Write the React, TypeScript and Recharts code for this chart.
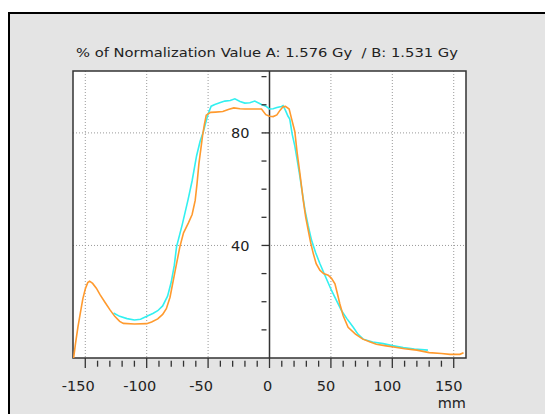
import React from 'react';
import {
  LineChart,
  Line,
  XAxis,
  YAxis,
  CartesianGrid,
  ReferenceLine,
  ReferenceDot,
  ReferenceArea,
} from 'recharts';

const titleText = '% of Normalization Value A: 1.576 Gy\u00a0 / B: 1.531 Gy';
const unitLabel = 'mm';

const orangeMm = [
  -159.5, -158, -156, -154, -152, -150, -148, -146.5, -144, -141, -138, -134, -130, -126, -122, -119,
  -110, -100, -96, -91, -87, -84, -81, -77, -73, -70, -66, -63, -60.5, -59, -57.5, -56, -54.5, -53,
  -51.5, -48, -44, -38, -33, -29, -24, -20, -12, -6.5, -3, 0, 3, 6, 8.5, 11, 13, 16, 18, 20.6, 22.5,
  24.7, 27.4, 29.5, 31.5, 33.5, 35.6, 38, 41, 44, 47.8, 50.5, 53.3, 55.5, 57.3, 60, 64, 70, 76, 82,
  87, 95, 101, 110, 120, 130, 140, 147, 155, 158,
];
const orangePct = [
  0, 5, 11, 16, 21, 24.5, 26.8, 27.3, 26.5, 24.8, 22.5, 19.8, 17.2, 14.8, 13.0, 12.3,
  12.1, 12.2, 12.8, 13.9, 15.5, 17.5, 21.6, 30.6, 39.5, 44.5, 48, 51, 56, 62, 69, 74, 79, 83,
  86.3, 87.3, 87.4, 87.6, 88.4, 88.9, 88.6, 88.5, 88.5, 88.5, 86.5, 85.9, 85.8, 86.4, 88, 89.3, 89.4, 88.5, 85, 80.5, 73,
  65.8, 56.3, 50, 45.5, 41, 37.2, 33.5, 31.2, 30, 29.4, 28.3, 26.4, 22.5, 19.2, 15, 10.9, 8.5, 6.7, 5.7,
  4.9, 4.3, 3.9, 3.3, 2.8, 1.9, 1.6, 1.3, 1.3, 1.9,
];

const cyanMm = [
  -127, -122, -116, -110, -105, -99, -95, -91, -87, -83, -80, -77.5, -75.7, -71, -66.3, -63, -59.4,
  -56.5, -54, -52, -50, -47.5, -44.5, -40, -36.4, -32, -28.2, -24, -20.1, -16, -12, -6.5, -3, 0, 3, 6,
  9.8, 11, 13, 15, 16.5, 18.5, 20.6, 22.5, 24.7, 26.8, 28.8, 31.5, 34.2, 37.5, 41, 45, 50.5, 55, 58.7,
  63, 68.2, 72, 76.3, 84, 92.6, 100, 108.9, 118, 129,
];
const cyanPct = [
  16.0, 14.8, 14.0, 13.5, 13.8, 15, 15.8, 16.8, 18.5, 22, 27, 33, 39.5, 47.5, 56.3, 63, 71.8,
  77, 80.2, 83.5, 86.7, 89.5, 90.1, 90.8, 91.3, 91.5, 92.1, 91.2, 90.6, 90.7, 91.3, 90.1, 89.5, 88.5, 88.6, 89,
  89.4, 89.7, 88, 86, 84.9, 79.5, 75.4, 70.5, 64.6, 58.5, 52.7, 47, 41.9, 37.5, 33.6, 29.5, 24.0, 20, 16.8,
  14, 10.9, 8.5, 6.7, 5.7, 5.1, 4.4, 3.7, 3.2, 2.8,
];

const xTicks = [
  -150, -140, -130, -120, -110, -100, -90, -80, -70, -60, -50, -40, -30, -20, -10, 0,
  10, 20, 30, 40, 50, 60, 70, 80, 90, 100, 110, 120, 130, 140, 150,
];
const xLabelTicks = [-150, -100, -50, 0, 50, 100, 150];
const yTicks = [10, 20, 30, 40, 50, 60, 70, 80, 90, 100];
const yLabelTicks = [40, 80];
const xGrid = [-150, -100, -50, 50, 100, 150];
const yGrid = [40, 80];

const orangeData = orangeMm.map((x, i) => ({ x, y: orangePct[i] }));
const cyanData = cyanMm.map((x, i) => ({ x, y: cyanPct[i] }));

const FONT = 'DejaVu Sans, sans-serif';
const AXIS = '#333';

const XTick = (props: any) => {
  const { x, y, payload } = props;
  const v = payload.value as number;
  const major = xLabelTicks.includes(v);
  const dx = v === 0 ? -2 : v < 0 ? -7 : -5;
  return (
    <g>
      <line
        x1={x}
        x2={x}
        y1={major ? y : y + 2.7}
        y2={major ? y + 10 : y + 8.7}
        stroke={AXIS}
        strokeWidth={1.3}
      />
      {major && (
        <text x={x + dx} y={y + 33} textAnchor="middle" fontFamily={FONT} fontSize={14.5} fill="#222">
          {v}
        </text>
      )}
    </g>
  );
};

const makeYTick = (v: number) => (props: any) => {
  const { cx, cy } = props;
  const major = yLabelTicks.includes(v);
  return (
    <g>
      {major && <rect x={cx - 42} y={cy - 7} width={33} height={14} fill="#fff" />}
      <line
        x1={cx - 8}
        x2={major ? cx : cx - 3}
        y1={cy}
        y2={cy}
        stroke={AXIS}
        strokeWidth={1.3}
      />
      {major && (
        <text
          x={cx - 20}
          y={cy}
          dy="0.36em"
          textAnchor="end"
          fontFamily={FONT}
          fontSize={14.5}
          fill="#222"
        >
          {v}
        </text>
      )}
    </g>
  );
};

export default function App() {
  return (
    <div
      style={{
        position: 'absolute',
        left: 0,
        top: 0,
        width: 545,
        height: 414,
        overflow: 'hidden',
        background: '#fff',
      }}
    >
      <div
        style={{
          position: 'absolute',
          left: 8,
          top: 12,
          width: 1500,
          height: 1500,
          borderLeft: '2px solid #000',
          borderTop: '2px solid #000',
          background: '#e4e4e4',
        }}
      />
      <div style={{ position: 'absolute', left: 0, top: 0 }}>
        <LineChart width={545} height={414} margin={{ top: 71, right: 79, bottom: 6, left: 73 }}>
          <CartesianGrid
            fill="#fff"
            stroke="#9a9a9a"
            strokeDasharray="1 2"
            verticalValues={xGrid}
            horizontalValues={yGrid}
          />
          <XAxis
            type="number"
            dataKey="x"
            domain={[-160, 160]}
            ticks={xTicks}
            interval={0}
            tick={<XTick />}
            tickLine={false}
            axisLine={false}
            tickSize={0}
            tickMargin={0}
            height={50}
            allowDataOverflow
          />
          <YAxis type="number" domain={[0, 102]} hide allowDataOverflow />
          <ReferenceArea
            x1={-160}
            x2={160}
            y1={0}
            y2={102}
            fill="none"
            stroke={AXIS}
            strokeWidth={1.5}
            ifOverflow="visible"
          />
          <ReferenceLine x={0} stroke={AXIS} strokeWidth={1.5} />
          {yTicks.map((v) => (
            <ReferenceDot key={v} x={0} y={v} r={1} shape={makeYTick(v)} ifOverflow="visible" />
          ))}
          <Line
            data={cyanData}
            dataKey="y"
            type="linear"
            stroke="#33f0f0"
            strokeWidth={1.6}
            dot={false}
            isAnimationActive={false}
          />
          <Line
            data={orangeData}
            dataKey="y"
            type="linear"
            stroke="#ff9a2e"
            strokeWidth={1.6}
            dot={false}
            isAnimationActive={false}
          />
        </LineChart>
      </div>
      <svg
        width={545}
        height={414}
        style={{ position: 'absolute', left: 0, top: 0, pointerEvents: 'none' }}
      >
        <text
          x={76}
          y={56.7}
          textLength={382}
          lengthAdjust="spacingAndGlyphs"
          fontFamily={FONT}
          fontSize={13}
          fill="#222"
        >
          {titleText}
        </text>
        <text x={466} y={408} textAnchor="end" fontFamily={FONT} fontSize={14.5} fill="#222">
          {unitLabel}
        </text>
      </svg>
    </div>
  );
}
